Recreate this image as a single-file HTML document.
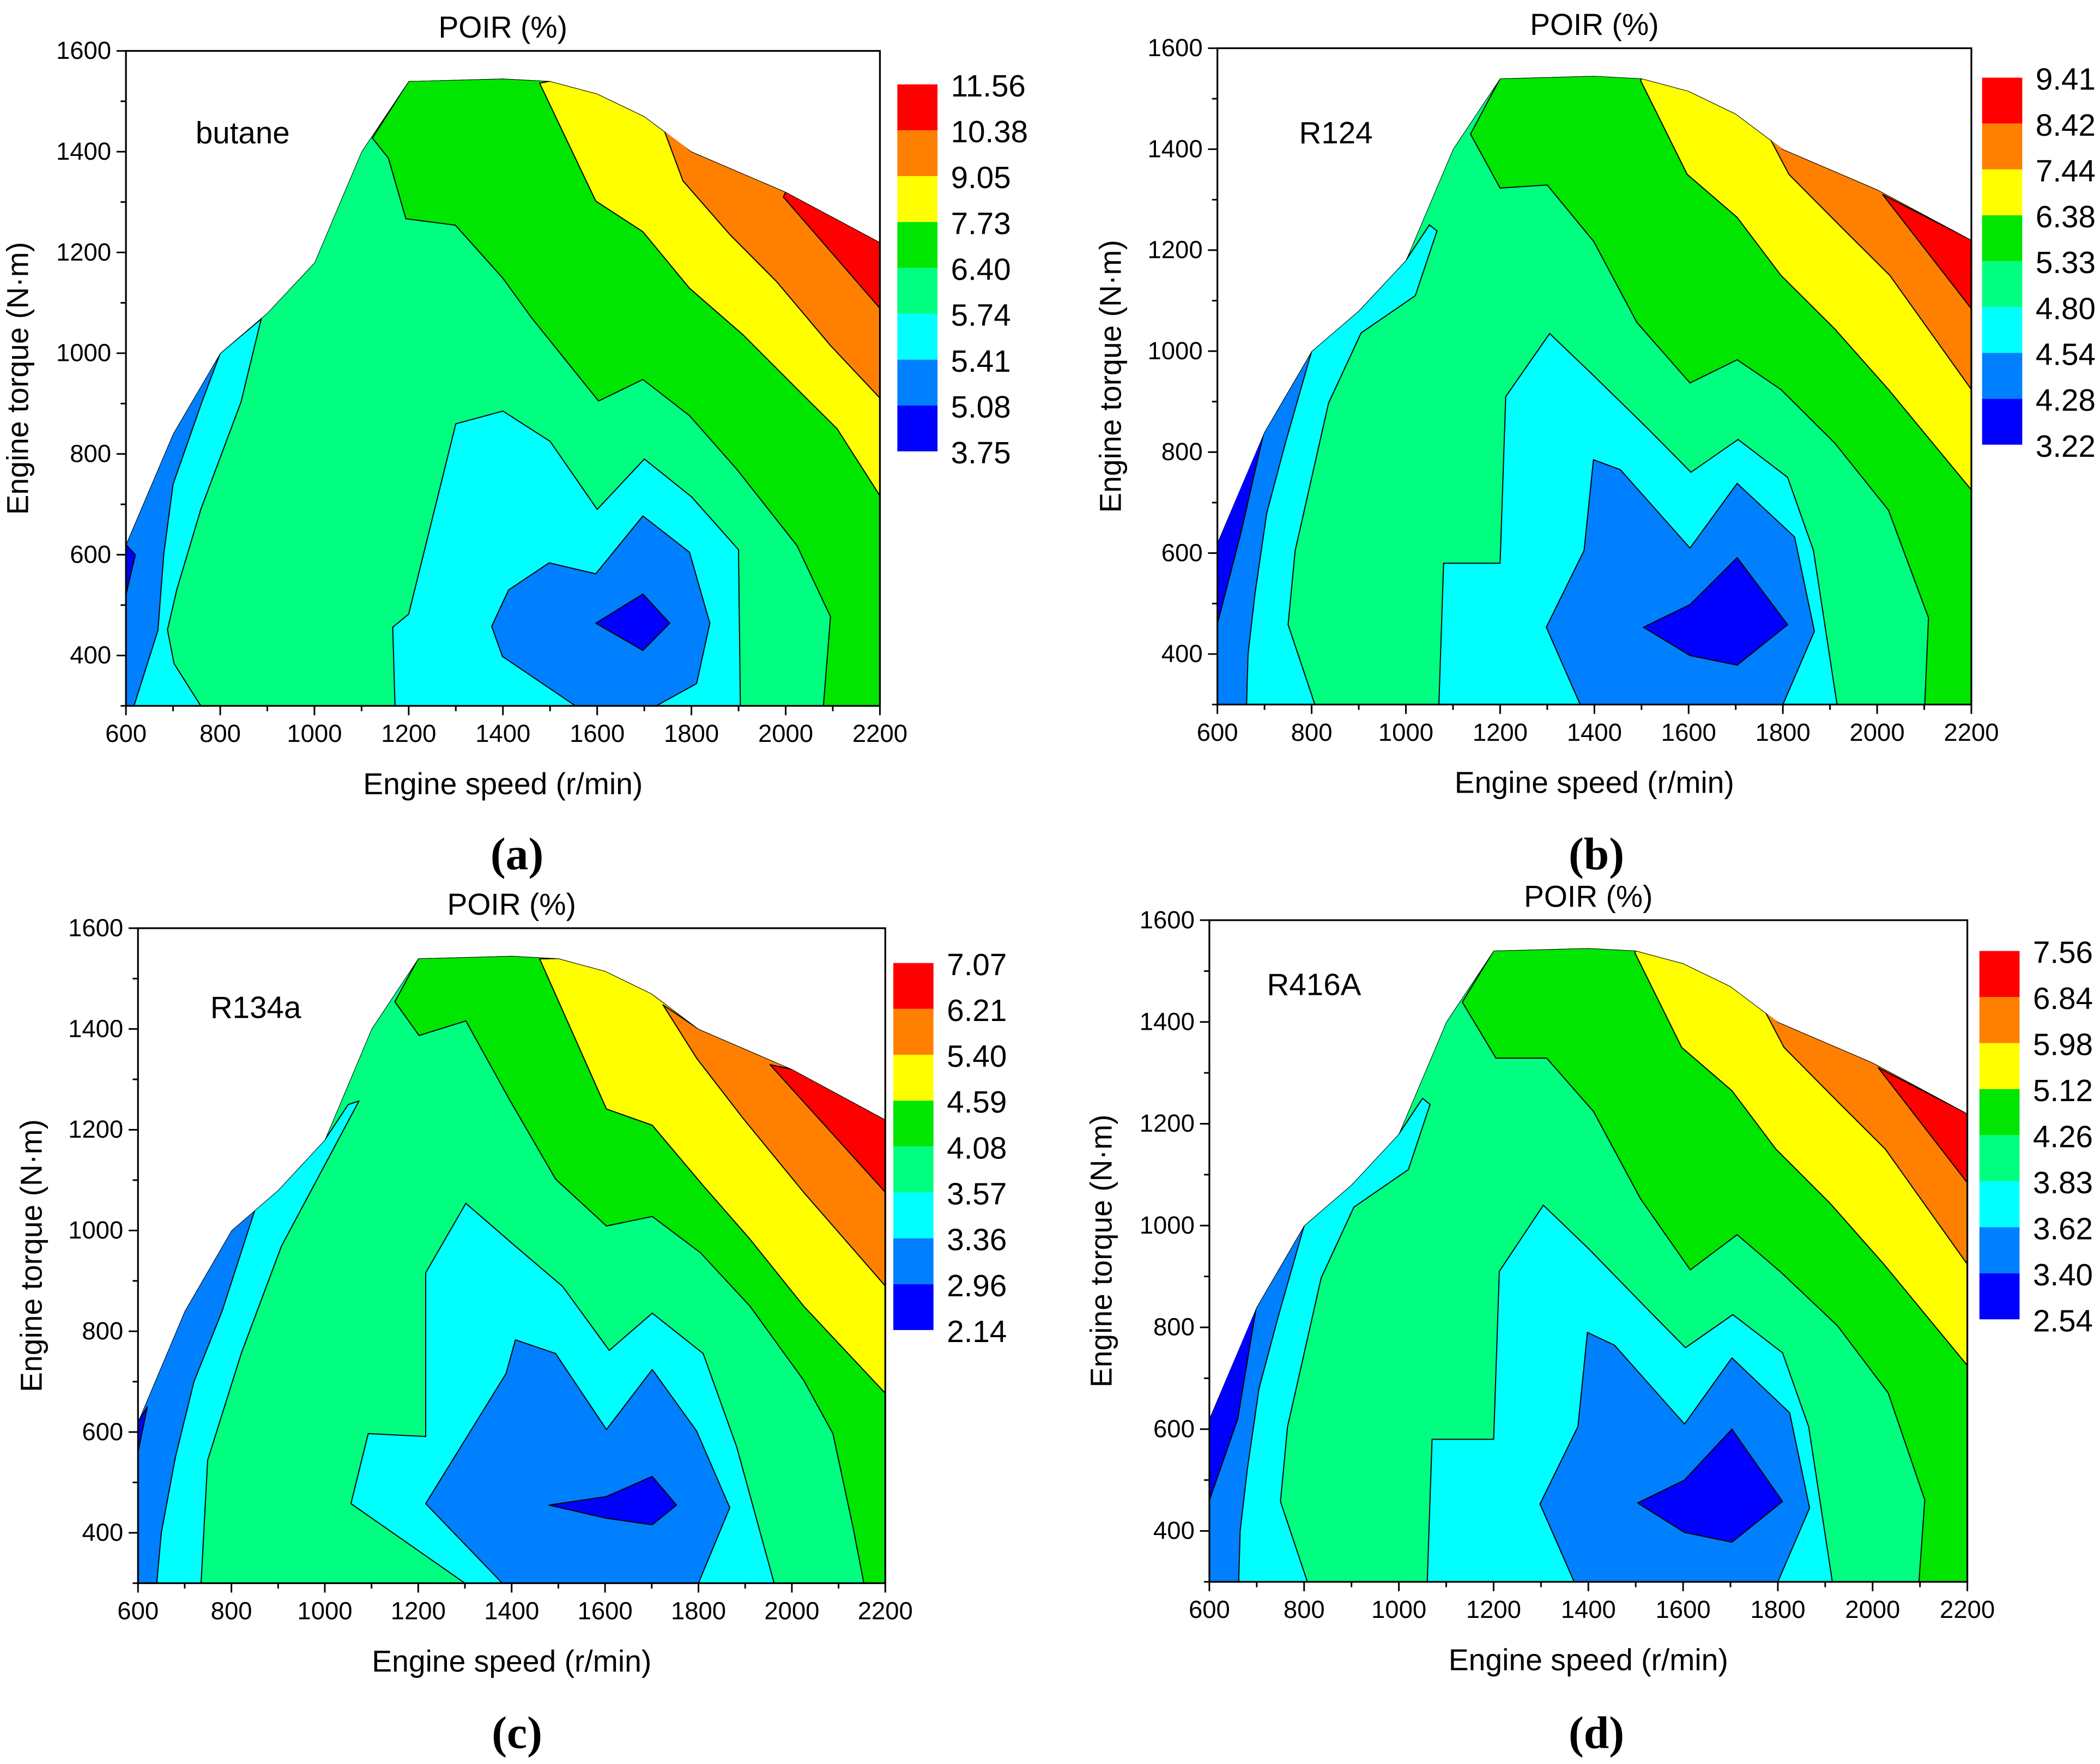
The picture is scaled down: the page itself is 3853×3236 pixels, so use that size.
<!DOCTYPE html>
<html><head><meta charset="utf-8"><style>
html,body{margin:0;padding:0;background:#fff;}
svg{display:block;}
text{font-family:"Liberation Sans",sans-serif;fill:#000;}
</style></head><body>
<svg id="fig" xmlns="http://www.w3.org/2000/svg" width="3853" height="3236" viewBox="0 0 1568 1317">
<rect x="0" y="0" width="1568" height="1317" fill="#fff"/>
</svg>
<script>
const xTicks = [600,800,1000,1200,1400,1600,1800,2000,2200];
const yTicks = [400,600,800,1000,1200,1400,1600];
const colors = ['#FF0000','#FF8000','#FFFF00','#00E600','#00FF80','#00FFFF','#0080FF','#0000FF'];
const envTop = [[600,620],[700,840],[800,1000],[900,1080],[1000,1180],[1100,1400],[1200,1540],[1400,1545],[1500,1540],[1600,1515],[1700,1470],[1800,1400],[2000,1320],[2200,1220]];

const aLevels = ['11.56','10.38','9.05','7.73','6.40','5.74','5.41','5.08','3.75'];
const aGreen = [[1123,1427],[1157,1387],[1194,1267],[1299,1254],[1399,1150],[1461,1070],[1603,905],[1697,948],[1796,876],[1896,770],[2024,618],[2095,477],[2080,300]];
const aYellow = [[1478,1536],[1597,1302],[1697,1241],[1796,1129],[1910,1036],[2038,916],[2109,850],[2200,717]];
const aOrange = [[1740,1448],[1782,1342],[1882,1235],[1981,1142],[2095,1015],[2200,911]];
const aRed = [[1995,1310],[2200,1089]];
const aCyanC = [[1171,300],[1166,456],[1200,482],[1300,860],[1400,885],[1500,825],[1600,690],[1700,790],[1800,715],[1900,610],[1904,300]];
const aDodgerC = [[1376,458],[1412,530],[1498,584],[1597,562],[1697,677],[1796,605],[1839,464],[1811,344],[1725,300],[1554,300],[1399,398]];
const aBlueC = [[1597,464],[1697,522],[1754,464],[1697,410]];
const aCyanL = [[600,300],[600,620],[700,840],[800,1000],[887,1068],[844,903],[759,690],[708,531],[688,451],[702,384],[759,300]];
const aDodgerL = [[600,300],[600,620],[700,840],[800,1000],[760,900],[700,740],[680,600],[668,450],[617,300]];
const aBlueL = [[600,520],[600,620],[620,600]];

const bLevels = ['9.41','8.42','7.44','6.38','5.33','4.80','4.54','4.28','3.22'];
const bGreen = [[1137,1430],[1200,1323],[1300,1329],[1399,1217],[1490,1057],[1603,937],[1703,983],[1796,924],[1910,818],[2024,685],[2109,472],[2101,300]];
const bYellow = [[1498,1536],[1597,1350],[1703,1265],[1796,1150],[1910,1044],[2024,924],[2200,725]];
const bOrange = [[1765,1435],[1813,1350],[1927,1243],[2027,1150],[2200,924]];
const bRed = [[2012,1310],[2200,1084]];
const bCyanC = [[1070,300],[1080,580],[1200,580],[1212,910],[1305,1035],[1400,950],[1515,845],[1605,760],[1705,825],[1810,750],[1865,605],[1915,300]];
const bDodgerC = [[1298,453],[1378,605],[1398,785],[1455,765],[1603,610],[1703,738],[1825,632],[1867,445],[1800,300],[1370,300]];
const bBlueC = [[1504,453],[1603,498],[1703,591],[1810,458],[1703,378],[1603,397]];
const bCyanL = [[600,300],[600,620],[700,840],[800,1000],[900,1080],[1000,1180],[1050,1250],[1066,1238],[1020,1110],[905,1036],[836,897],[765,605],[750,458],[807,300]];
const bDodgerL = [[600,300],[600,620],[700,840],[800,1000],[745,820],[705,680],[680,520],[665,400],[662,300]];
const bBlueL = [[600,460],[600,620],[700,845],[650,640]];

const cLevels = ['7.07','6.21','5.40','4.59','4.08','3.57','3.36','2.96','2.14'];
const cGreen = [[1150,1454],[1202,1387],[1302,1416],[1394,1262],[1494,1102],[1603,1009],[1701,1028],[1804,956],[1910,850],[2025,703],[2088,597],[2131,411],[2154,300]];
const cYellow = [[1460,1539],[1603,1241],[1701,1209],[1810,1089],[1910,983],[2025,850],[2200,677]];
const cOrange = [[1724,1448],[1796,1342],[1896,1222],[2025,1076],[2200,890]];
const cRed = [[1953,1329],[2200,1076]];
const cCyanC = [[1300,300],[1056,458],[1093,597],[1216,591],[1216,916],[1302,1054],[1408,969],[1509,889],[1609,762],[1701,836],[1810,756],[1882,570],[1962,300]];
const cDodgerC = [[1216,458],[1388,716],[1408,783],[1494,756],[1603,605],[1701,724],[1796,602],[1867,450],[1800,300],[1380,300]];
const cBlueC = [[1480,455],[1603,472],[1701,512],[1753,455],[1701,416],[1603,429]];
const cCyanL = [[600,300],[600,620],[700,840],[800,1000],[900,1080],[1000,1180],[1050,1250],[1073,1257],[907,969],[821,756],[749,544],[735,300]];
const cDodgerL = [[600,300],[600,620],[700,840],[800,1000],[850,1040],[780,840],[720,700],[680,550],[650,400],[640,300]];
const cBlueL = [[600,560],[600,620],[620,650]];

const dLevels = ['7.56','6.84','5.98','5.12','4.26','3.83','3.62','3.40','2.54'];
const dGreen = [[1134,1439],[1205,1329],[1312,1329],[1411,1224],[1510,1053],[1615,913],[1714,982],[1807,908],[1926,803],[2033,671],[2110,461],[2098,300]];
const dYellow = [[1498,1536],[1597,1350],[1703,1265],[1796,1150],[1910,1044],[2024,924],[2200,725]];
const dOrange = [[1765,1435],[1813,1350],[1927,1243],[2027,1150],[2200,924]];
const dRed = [[2012,1310],[2200,1084]];
const dCyanC = [[1060,300],[1070,580],[1200,580],[1212,910],[1305,1040],[1400,955],[1515,845],[1605,760],[1705,825],[1810,750],[1865,605],[1915,300]];
const dDodgerC = [[1298,453],[1378,605],[1398,790],[1455,765],[1603,610],[1703,740],[1825,632],[1867,445],[1800,300],[1370,300]];
const dBlueC = [[1504,455],[1603,500],[1703,600],[1810,458],[1703,378],[1603,397]];
const dCyanL = [[600,300],[600,620],[700,840],[800,1000],[900,1080],[1000,1180],[1050,1250],[1066,1238],[1020,1110],[905,1036],[836,897],[765,605],[750,458],[807,300]];
const dDodgerL = [[600,300],[600,620],[700,840],[800,1000],[745,820],[705,680],[680,520],[665,400],[662,300]];
const dBlueL = [[600,460],[600,620],[700,845],[660,620]];

const NS = 'http://www.w3.org/2000/svg';
const svg = document.getElementById('fig');
function mk(tag, attrs, parent){const e=document.createElementNS(NS,tag);for(const k in attrs)e.setAttribute(k,attrs[k]);(parent||svg).appendChild(e);return e;}

const panels = [
 {id:'a',x0:94,x1:657,yT:38,yB:527,lx:670,lt:63,lb:337,name:'butane',nx:146,ny:99,ty:20,yax:13,lab:'(a)',labX:386,labY:637,levels:aLevels,green:aGreen,yellow:aYellow,orange:aOrange,red:aRed,cyanC:aCyanC,dodgerC:aDodgerC,blueC:aBlueC,cyanL:aCyanL,dodgerL:aDodgerL,blueL:aBlueL},
 {id:'b',x0:909,x1:1472,yT:36,yB:526,lx:1480,lt:58,lb:332,name:'R124',nx:970,ny:99,ty:18,yax:829,lab:'(b)',labX:1192,labY:637,levels:bLevels,green:bGreen,yellow:bYellow,orange:bOrange,red:bRed,cyanC:bCyanC,dodgerC:bDodgerC,blueC:bBlueC,cyanL:bCyanL,dodgerL:bDodgerL,blueL:bBlueL},
 {id:'c',x0:103,x1:661,yT:693,yB:1182,lx:667,lt:719,lb:993,name:'R134a',nx:157,ny:752,ty:675,yax:23,lab:'(c)',labX:386,labY:1293,levels:cLevels,green:cGreen,yellow:cYellow,orange:cOrange,red:cRed,cyanC:cCyanC,dodgerC:cDodgerC,blueC:cBlueC,cyanL:cCyanL,dodgerL:cDodgerL,blueL:cBlueL},
 {id:'d',x0:903,x1:1469,yT:687,yB:1181,lx:1478,lt:710,lb:985,name:'R416A',nx:946,ny:735,ty:669,yax:822,lab:'(d)',labX:1192,labY:1293,levels:dLevels,green:dGreen,yellow:dYellow,orange:dOrange,red:dRed,cyanC:dCyanC,dodgerC:dDodgerC,blueC:dBlueC,cyanL:dCyanL,dodgerL:dDodgerL,blueL:dBlueL}
];

panels.forEach(p=>{
  const sx = v => p.x0 + (v-600)/1600*(p.x1-p.x0);
  const sy = v => p.yB - (v-300)/1300*(p.yB-p.yT);
  const pts = arr => arr.map(q=>sx(q[0]).toFixed(1)+','+sy(q[1]).toFixed(1)).join(' ');
  const g = mk('g',{});
  
  
  const envelope = [[600,300]].concat(envTop).concat([[2200,300]]);
  const cp = mk('clipPath',{id:'clip-'+p.id},g);
  mk('polygon',{points:pts(envelope)},cp);
  const plot = mk('g',{'clip-path':'url(#clip-'+p.id+')'},g);
  
  
  const sty = {stroke:'#000','stroke-width':0.8,'stroke-linejoin':'round'};
  function poly(arr,color,name){
    const e = mk('polygon',Object.assign({points:pts(arr),fill:color},sty),plot);
    
    
  }
  poly(envelope,colors[4],'band-base');
  function high(b){
    const out = b.slice();
    if(out[out.length-1][1] <= 300) out.push([2200,300]);
    const rest = envTop.filter(q=>q[0]>b[0][0]).reverse();
    return out.concat(rest);
  }
  poly(high(p.green),colors[3],'band-green');
  poly(high(p.yellow),colors[2],'band-yellow');
  poly(high(p.orange),colors[1],'band-orange');
  poly(high(p.red),colors[0],'band-red');
  poly(p.cyanC,colors[5],'band-cyan-center');
  poly(p.dodgerC,colors[6],'band-blue-center');
  poly(p.blueC,colors[7],'band-darkblue-center');
  poly(p.cyanL,colors[5],'band-cyan-left');
  poly(p.dodgerL,colors[6],'band-blue-left');
  poly(p.blueL,colors[7],'band-darkblue-left');

  const fr = mk('rect',{x:p.x0,y:p.yT,width:p.x1-p.x0,height:p.yB-p.yT,fill:'none',stroke:'#000','stroke-width':1.3},g);
  
  
  for(let v=300; v<=1600; v+=100){
    const major = v%200===0;
    mk('line',{x1:p.x0,x2:p.x0-(major?7:4),y1:sy(v),y2:sy(v),stroke:'#000','stroke-width':1.2},g);
  }
  yTicks.forEach(v=>{
    const t = mk('text',{x:p.x0-11,y:sy(v)+6,'text-anchor':'end','font-size':18.5},g);
    t.textContent = v;
    
    
  });
  for(let v=600; v<=2200; v+=100){
    const major = v%200===0;
    mk('line',{x1:sx(v),x2:sx(v),y1:p.yB,y2:p.yB+(major?7:4),stroke:'#000','stroke-width':1.2},g);
  }
  xTicks.forEach(v=>{
    const t = mk('text',{x:sx(v),y:p.yB+27,'text-anchor':'middle','font-size':18.5},g);
    t.textContent = v;
    
    
  });
  const xt = mk('text',{x:(p.x0+p.x1)/2,y:p.yB+66,'text-anchor':'middle','font-size':22.5},g);
  xt.textContent = 'Engine speed (r/min)';
  
  
  const ymid = (p.yT+p.yB)/2;
  const yt = mk('text',{x:p.yax+8,y:ymid,'text-anchor':'middle','font-size':22.5,transform:'rotate(-90 '+(p.yax+8)+' '+ymid+')'},g);
  yt.textContent = 'Engine torque (N\u00b7m)';
  
  
  const tt = mk('text',{x:(p.x0+p.x1)/2,y:p.ty+8,'text-anchor':'middle','font-size':22.5},g);
  tt.textContent = 'POIR (%)';
  
  
  const nm = mk('text',{x:p.nx,y:p.ny+8,'font-size':23},g);
  nm.textContent = p.name;
  
  
  const lb = mk('text',{x:p.labX,y:p.labY+12,'text-anchor':'middle','font-size':34,'font-weight':'bold',style:'font-family:"Liberation Serif",serif'},g);
  lb.textContent = p.lab;
  
  
  const h = (p.lb-p.lt)/8;
  for(let i=0;i<8;i++){
    const r = mk('rect',{x:p.lx,y:p.lt+i*h,width:30,height:h,fill:colors[i]},g);
    
    
  }
  p.levels.forEach((s,i)=>{
    const t = mk('text',{x:p.lx+40,y:p.lt+i*h+9,'font-size':23},g);
    t.textContent = s;
    
    
  });
});
</script>
</body></html>
